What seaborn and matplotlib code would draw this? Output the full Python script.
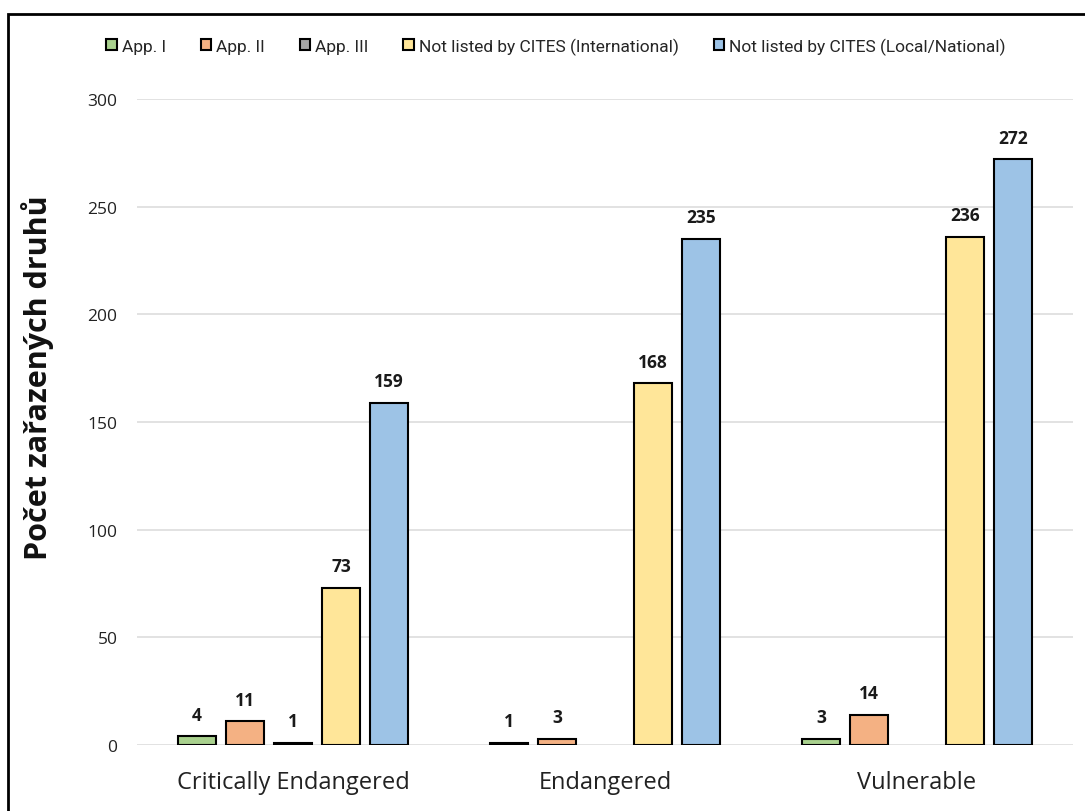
import matplotlib
matplotlib.use("Agg")
import matplotlib.pyplot as plt
from matplotlib.patches import Rectangle
import seaborn as sns
import pandas as pd
import numpy as np

categories = ["Critically Endangered", "Endangered", "Vulnerable"]
series = ["App. I", "App. II", "App. III",
          "Not listed by CITES (International)", "Not listed by CITES (Local/National)"]
app1 = [4, 1, 3]
app2 = [11, 3, 14]
app3 = [1, np.nan, np.nan]
intl = [73, 168, 236]
local = [159, 235, 272]
colors = ["#A9D18E", "#F4B183", "#A6A6A6", "#FFE699", "#9DC3E6"]

rows = []
for s, vals in zip(series, [app1, app2, app3, intl, local]):
    for c, v in zip(categories, vals):
        rows.append({"cat": c, "series": s, "value": v})
df = pd.DataFrame(rows)

sns.set_theme(style="white")
plt.rcParams['font.family'] = ['Open Sans', 'DejaVu Sans']

fig = plt.figure(figsize=(10.85, 8.12), dpi=100)
ax = fig.add_axes([137/1085, 1-746/812, (1073-137)/1085, (746-100)/812])

sns.barplot(data=df, x="cat", y="value", hue="series", order=categories,
            hue_order=series, palette=colors, saturation=1, edgecolor="black",
            linewidth=1.5, width=0.77, gap=0.2, ax=ax, legend=True)

for cont in ax.containers:
    ax.bar_label(cont, fmt="%d", padding=9, fontsize=12.5, fontweight="bold",
                 color="#1a1a1a")

ax.set_ylim(0, 300)
ax.set_xlim(-0.5, 2.5)
ax.set_yticks(np.arange(0, 301, 50))
ax.yaxis.grid(True, color="#DDDDDD", linewidth=1.2)
ax.set_axisbelow(True)
for sp in ax.spines.values():
    sp.set_visible(False)
ax.tick_params(axis="y", labelsize=12.5, pad=14, length=0, colors="#222222")
ax.tick_params(axis="x", labelsize=17, pad=18, length=0, colors="#222222")
ax.set_xlabel("")
ax.set_ylabel("")

fig.text(38/1085, 1-378/812, "Počet zařazených druhů", rotation=90,
         fontsize=22, fontweight="bold", ha="center", va="center", color="#111111")

handles, labels = ax.get_legend_handles_labels()
ax.legend_.remove()
fig.legend(handles, labels, loc="center", bbox_to_anchor=(556/1085, 1-47/812),
           ncol=5, frameon=False, handlelength=0.6, handleheight=0.6,
           handletextpad=0.3, columnspacing=2.0,
           prop={"family": ["Liberation Sans Narrow", "Roboto", "DejaVu Sans"],
                 "size": 12.5, "stretch": "condensed"})

fig.patches.append(Rectangle((8/1085, -0.05), 1.2, 1-15/812+0.05,
                             transform=fig.transFigure, fill=False,
                             edgecolor="black", linewidth=2))

fig.savefig("out.png", dpi=100)
